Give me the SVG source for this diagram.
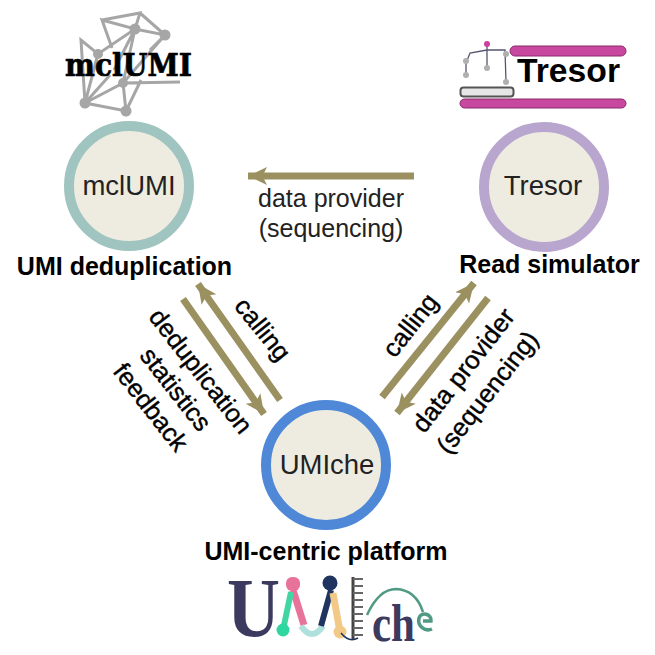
<svg xmlns="http://www.w3.org/2000/svg" width="655" height="655" viewBox="0 0 655 655">
<style>
text{font-family:"Liberation Sans",Arial,sans-serif;fill:#000}
.b{font-weight:700;font-size:25px;text-anchor:middle}
.n{font-size:27.500px;text-anchor:middle;fill:#222}
.l{font-size:25.500px;text-anchor:middle;stroke:#000;stroke-width:.4}
.d{font-size:25px;text-anchor:middle;fill:#222}
.ci{fill:#eeece1;stroke-width:10}
.a{stroke:#9b9160;stroke-width:7;fill:none;marker-end:url(#h)}
.g{stroke:#a6a6a6;stroke-width:3;fill:none}
.gd{fill:#a6a6a6}
</style>
<defs>
<marker id="h" markerUnits="userSpaceOnUse" markerWidth="24" markerHeight="20" refX="19" refY="10" orient="auto">
<path d="M0 1L19 10L0 19L4.500 10Z" fill="#9b9160"/>
</marker>
</defs>
<rect width="655" height="655" fill="#fff"/>
<g id="connectors">
<line class="a" x1="414" y1="176" x2="248" y2="176"/>
<line class="a" x1="280" y1="400" x2="198" y2="284"/>
<line class="a" x1="183" y1="299" x2="264" y2="414"/>
<line class="a" x1="382" y1="397" x2="474" y2="283"/>
<line class="a" x1="488" y1="298" x2="397" y2="413"/>
</g>
<g id="edge-labels">
<text class="d" x="331" y="207">data provider</text>
<text class="d" x="331" y="237">(sequencing)</text>
<text class="l" transform="translate(263 329) rotate(51)" y="9">calling</text>
<text class="l" transform="translate(201 371) rotate(52)" y="9">deduplication</text>
<text class="l" transform="translate(176 389) rotate(52)" y="9">statistics</text>
<text class="l" transform="translate(151 407) rotate(52)" y="9">feedback</text>
<text class="l" transform="translate(410 325) rotate(-52)" y="9">calling</text>
<text class="l" transform="translate(463 370) rotate(-52)" y="9">data provider</text>
<text class="l" transform="translate(487 392) rotate(-52)" y="9">(sequencing)</text>
</g>
<g id="node-mclumi">
<circle class="ci" cx="129" cy="186" r="60" stroke="#a0c4bf"/>
<text class="n" x="129" y="195">mclUMI</text>
<text class="b" x="124.500" y="275">UMI deduplication</text>
</g>
<g id="node-tresor">
<circle class="ci" cx="544" cy="187" r="60" stroke="#b9a6cf"/>
<text class="n" x="543" y="195">Tresor</text>
<text class="b" x="549.500" y="273">Read simulator</text>
</g>
<g id="node-umiche">
<circle class="ci" cx="326" cy="465" r="60" stroke="#5088d8"/>
<text class="n" x="327" y="474">UMIche</text>
<text class="b" x="326" y="560">UMI-centric platform</text>
</g>
<g id="logo-mclumi">
<path class="g" d="M102 20L140 13L135 29L102 20L112 48M140 13L165 35L135 29L98 54L81 40L85 103L98 54M135 29L123 83L85 103L126 111L123 83L165 35M135 29L114 70M141 80L126 111M123 83L180 82M85 103L110 75M165 35L150 50"/>
<g class="gd">
<circle cx="135" cy="29" r="5.500"/><circle cx="165" cy="35" r="5.500"/><circle cx="98" cy="54" r="5"/><circle cx="123" cy="83" r="5"/><circle cx="85" cy="103" r="5.500"/><circle cx="126" cy="111" r="5.500"/>
</g>
<text x="65" y="76" textLength="127" lengthAdjust="spacingAndGlyphs" style="font-family:'DejaVu Serif',serif;font-weight:700;font-size:31px;stroke:#000;stroke-width:.7">mclUMI</text>
</g>
<g id="logo-tresor">
<rect x="510" y="46" width="116" height="10" rx="5" fill="#c8489f" stroke="#8a2a6c"/>
<rect x="460" y="99" width="166" height="9" rx="4.500" fill="#c8489f" stroke="#8a2a6c"/>
<rect x="460.500" y="87.500" width="53" height="9" rx="3" fill="#e6e6e6" stroke="#555" stroke-width="2"/>
<path d="M466 63L470 53L487 50L505 50L506 82M487 44L487 66M466 63L466 74" fill="none" stroke="#555570" stroke-width="1.300"/>
<circle cx="487" cy="44" r="3" fill="#cf3f9f"/>
<g fill="#b0b0b0"><circle cx="466" cy="61" r="3"/><circle cx="466" cy="75" r="3"/><circle cx="487" cy="68" r="3"/><circle cx="506" cy="54" r="3"/><circle cx="506" cy="82" r="3"/></g>
<text x="517" y="82" textLength="103" lengthAdjust="spacingAndGlyphs" style="font-weight:700;font-size:33px">Tresor</text>
</g>
<g id="logo-umiche">
<text x="227" y="637" textLength="53" lengthAdjust="spacingAndGlyphs" style="font-family:'Liberation Serif',serif;font-weight:700;font-size:85px;fill:#3c3a5e">U</text>
<path d="M293 590L304 625" stroke="#e8739a" stroke-width="7" fill="none"/>
<path d="M291 592L283 630" stroke="#3fd6a4" stroke-width="6" fill="none"/>
<path d="M301 626Q312 642 323 626" stroke="#aee0dc" stroke-width="6" fill="none"/>
<path d="M331 590L321 626" stroke="#1f3560" stroke-width="6" fill="none"/>
<path d="M333 593L340 632" stroke="#f2c987" stroke-width="7" fill="none"/>
<rect x="286" y="577" width="14" height="14" rx="6" fill="#e8739a"/>
<circle cx="330" cy="583" r="7.500" fill="#1f3560"/>
<circle cx="283" cy="630" r="6.500" fill="#2fd6a0"/>
<circle cx="340" cy="632" r="6.500" fill="#f2c987"/>
<path d="M353 577V640" stroke="#444" stroke-width="3" fill="none"/>
<path d="M353 579H363M353 586H363M353 593H363M353 600H363M353 607H363M353 614H363M353 621H363M353 628H363M353 635H363" stroke="#666" stroke-width="2" fill="none"/>
<path d="M341 633Q349 643 358 638" stroke="#1f3560" stroke-width="1.500" fill="none"/>
<path d="M367 615Q379 589 396 589Q416 590 423 612" stroke="#4f9a84" stroke-width="2.500" fill="none"/>
<text x="372" y="641" textLength="43" lengthAdjust="spacingAndGlyphs" style="font-family:'Liberation Serif',serif;font-weight:700;font-size:53px;fill:#3c3a5e">ch</text>
<path d="M423 621H431C432 614 421 611 419 618C417 626 425 632 432 629" stroke="#4f9a84" stroke-width="3.500" fill="none"/>
</g>
</svg>
